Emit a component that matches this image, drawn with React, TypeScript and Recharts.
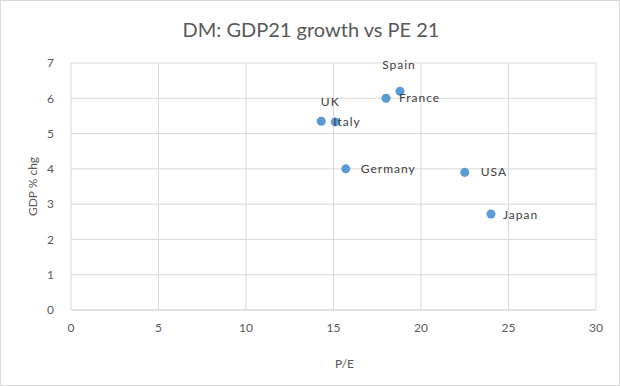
import { ScatterChart, Scatter, XAxis, YAxis, CartesianGrid, LabelList } from 'recharts';

const COUNTRIES = ['UK', 'Italy', 'France', 'Spain', 'Germany', 'USA', 'Japan'];
const PE_21 = [14.3, 15.1, 18.0, 18.8, 15.7, 22.5, 24.0];
const GDP_21 = [5.35, 5.33, 6.0, 6.2, 4.0, 3.9, 2.72];
const X_TICKS = [0, 5, 10, 15, 20, 25, 30];
const Y_TICKS = [0, 1, 2, 3, 4, 5, 6, 7];

// where each data label sits relative to its dot (Excel labels were dragged by hand)
const LABEL_OFFSET: Record<string, [number, number, 'start' | 'middle']> = {
  UK: [9, -19, 'middle'],
  Italy: [-2, 0, 'start'],
  France: [13, 0, 'start'],
  Spain: [-1, -26, 'middle'],
  Germany: [15, 0, 'start'],
  USA: [16, 0, 'start'],
  Japan: [12, 1, 'start'],
};

const FONT = 'Lato, "Open Sans", sans-serif';
const DOT = '#5B9BD5';
const GRID = '#d9d9d9';
const AXIS_TEXT = '#595959';

const data = COUNTRIES.map((name, i) => ({ name, pe: PE_21[i], gdp: GDP_21[i] }));

function PointLabel(props: any) {
  const { x, y, width, height, value } = props;
  const cx = x + width / 2;
  const cy = y + height / 2;
  const [dx, dy, anchor] = LABEL_OFFSET[value] || [13, 0, 'start'];
  return (
    <text x={cx + dx} y={cy + dy + 4} textAnchor={anchor} fill="#404040" fontSize={12} fontFamily={FONT} letterSpacing={1}>
      {value}
    </text>
  );
}

export default function App() {
  return (
    <div style={{ position: 'absolute', left: 0, top: 0, width: 620, height: 386, background: '#fff', border: '1px solid #d9d9d9', boxSizing: 'border-box', fontFamily: FONT }}>
      <div style={{ position: 'absolute', left: 0, top: 16, width: 620, textAlign: 'center', fontSize: 20, color: AXIS_TEXT }}>
        DM: GDP21 growth vs PE 21
      </div>
      <div style={{ position: 'absolute', left: -1, top: -1 }}>
        <ScatterChart width={620} height={386} margin={{ top: 63, right: 24, bottom: 16, left: 0 }}>
          <CartesianGrid stroke={GRID} />
          <XAxis
            type="number"
            dataKey="pe"
            domain={[0, 30]}
            ticks={X_TICKS}
            height={60}
            tickLine={false}
            axisLine={{ stroke: GRID }}
            tickMargin={7}
            tick={{ fill: AXIS_TEXT, fontSize: 12, fontFamily: FONT }}
            label={{ value: 'P/E', position: 'insideBottom', offset: 2, dx: 11, fill: AXIS_TEXT, fontSize: 12, fontFamily: FONT }}
          />
          <YAxis
            type="number"
            dataKey="gdp"
            domain={[0, 7]}
            ticks={Y_TICKS}
            width={71}
            tickLine={false}
            axisLine={false}
            tickMargin={11}
            tick={{ fill: AXIS_TEXT, fontSize: 12, fontFamily: FONT }}
            label={{ value: 'GDP % chg', angle: -90, position: 'insideLeft', offset: 33, fill: AXIS_TEXT, fontSize: 12, fontFamily: FONT, style: { textAnchor: 'middle' } }}
          />
          <Scatter data={data} fill={DOT} shape="circle" isAnimationActive={false}>
            <LabelList dataKey="name" content={PointLabel} />
          </Scatter>
        </ScatterChart>
      </div>
    </div>
  );
}
